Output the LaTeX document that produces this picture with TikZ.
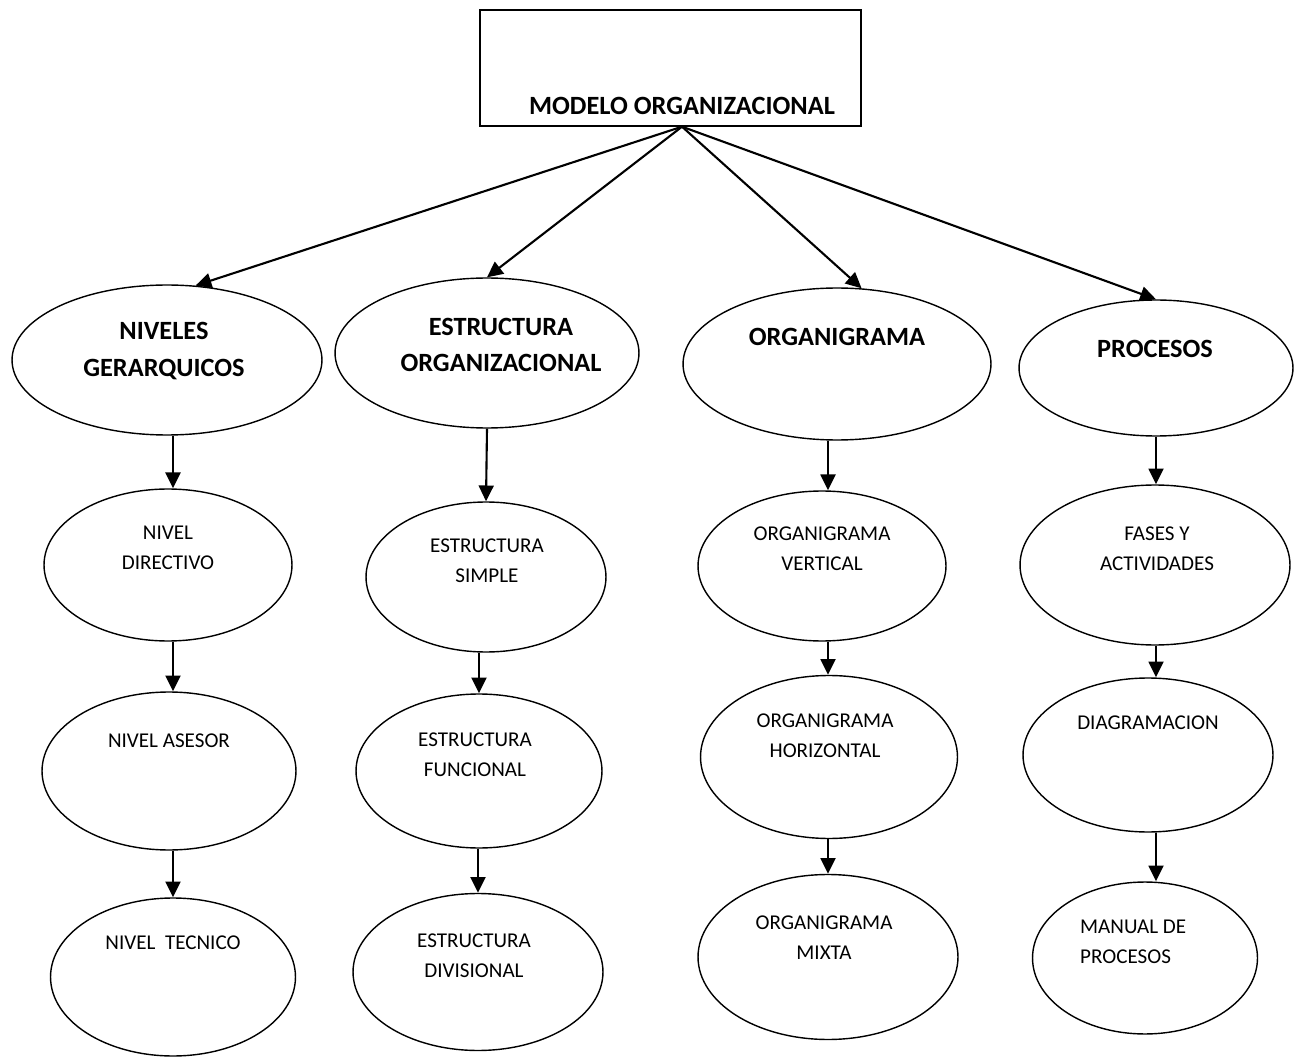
\documentclass[tikz,border=0pt]{standalone}
\usepackage{fontspec}
\setmainfont{Carlito}
\usetikzlibrary{positioning,arrows.meta,shapes.geometric}
\tikzset{
  globo/.style={draw,ellipse,line width=0.8pt,inner sep=0pt},
  caja/.style={draw,rectangle,line width=0.8pt,minimum width=7.62cm,minimum height=2.32cm},
  titulo/.style={font=\fontsize{15}{21}\selectfont\bfseries,align=center},
  rotulo/.style={font=\fontsize{12}{17}\selectfont,align=center},
  flecha/.style={-{Triangle[length=9pt,width=8.5pt]},line width=1.2pt}
}

\begin{document}
\begin{tikzpicture}[x=0.02cm,y=-0.02cm]
  \useasboundingbox (0,0) rectangle (1302,1057);

  % raiz
  \node[caja] (modelo) at (670.5,68) {};
  \node[titulo] (tmodelo) at (682,106) {MODELO ORGANIZACIONAL};

  % primer nivel
  \node[globo,minimum width=6.2cm,minimum height=3.0cm] (niveles) at (167,360) {};
  \node[titulo] at (164,351) {NIVELES\\GERARQUICOS};
  \node[globo,minimum width=6.08cm,minimum height=3.0cm] (estructura) at (487,353) {};
  \node[titulo] at (501,345) {ESTRUCTURA\\ORGANIZACIONAL};
  \node[globo,minimum width=6.16cm,minimum height=3.04cm] (organigrama) at (837,364) {};
  \node[titulo] at (837,337) {ORGANIGRAMA};
  \node[globo,minimum width=5.48cm,minimum height=2.72cm] (procesos) at (1156,368) {};
  \node[titulo] at (1155,349) {PROCESOS};

  % niveles gerarquicos
  \node[globo,minimum width=4.96cm,minimum height=3.04cm] (directivo) at (168,565) {};
  \node[rotulo] at (168,548) {NIVEL\\DIRECTIVO};
  \node[globo,minimum width=5.08cm,minimum height=3.16cm] (asesor) at (169,771) {};
  \node[rotulo] at (169,741) {NIVEL ASESOR};
  \node[globo,minimum width=4.9cm,minimum height=3.16cm] (tecnico) at (173,977) {};
  \node[rotulo] at (173,943) {NIVEL\ \ TECNICO};

  % estructura organizacional
  \node[globo,minimum width=4.8cm,minimum height=3.0cm] (simple) at (486,577) {};
  \node[rotulo] at (487,561) {ESTRUCTURA\\SIMPLE};
  \node[globo,minimum width=4.92cm,minimum height=3.08cm] (funcional) at (479,771) {};
  \node[rotulo] at (475,755) {ESTRUCTURA\\FUNCIONAL};
  \node[globo,minimum width=5.0cm,minimum height=3.14cm] (divisional) at (478,972) {};
  \node[rotulo] at (474,956) {ESTRUCTURA\\DIVISIONAL};

  % organigrama
  \node[globo,minimum width=4.96cm,minimum height=3.0cm] (vertical) at (822,566) {};
  \node[rotulo] at (822,549) {ORGANIGRAMA\\VERTICAL};
  \node[globo,minimum width=5.14cm,minimum height=3.26cm] (horizontal) at (829,757) {};
  \node[rotulo] at (825,736) {ORGANIGRAMA\\HORIZONTAL};
  \node[globo,minimum width=5.2cm,minimum height=3.3cm] (mixta) at (828,957) {};
  \node[rotulo] at (824,938) {ORGANIGRAMA\\MIXTA};

  % procesos
  \node[globo,minimum width=5.4cm,minimum height=3.2cm] (fases) at (1155,565) {};
  \node[rotulo] at (1157,549) {FASES Y\\ACTIVIDADES};
  \node[globo,minimum width=5.0cm,minimum height=3.08cm] (diagramacion) at (1148,755) {};
  \node[rotulo] at (1148,723) {DIAGRAMACION};
  \node[globo,minimum width=4.5cm,minimum height=3.04cm] (manual) at (1145,958) {};
  \node[rotulo,align=left,anchor=west] at (1074,942) {MANUAL DE\\PROCESOS};

  % flechas
  \draw[flecha] (modelo.south -| tmodelo) -- (niveles.69);
  \draw[flecha] (modelo.south -| tmodelo) -- (estructura.north);
  \draw[flecha] (modelo.south -| tmodelo) -- (organigrama.72);
  \draw[flecha] (modelo.south -| tmodelo) -- (procesos.north);

  \draw[flecha] (niveles.south -| tecnico) -- (directivo.north -| tecnico);
  \draw[flecha] (directivo.south -| tecnico) -- (asesor.north -| tecnico);
  \draw[flecha] (asesor.south -| tecnico) -- (tecnico.north);

  \draw[flecha] (estructura.south) -- (simple.north);
  \draw[flecha] (simple.south -| funcional) -- (funcional.north);
  \draw[flecha] (funcional.south -| divisional) -- (divisional.north);

  \draw[flecha] (organigrama.south -| mixta) -- (vertical.north -| mixta);
  \draw[flecha] (vertical.south -| mixta) -- (horizontal.north -| mixta);
  \draw[flecha] (horizontal.south -| mixta) -- (mixta.north);

  \draw[flecha] (procesos.south) -- (fases.north -| procesos);
  \draw[flecha] (fases.south -| procesos) -- (diagramacion.north -| procesos);
  \draw[flecha] (diagramacion.south -| procesos) -- (manual.north -| procesos);
\end{tikzpicture}
\end{document}
